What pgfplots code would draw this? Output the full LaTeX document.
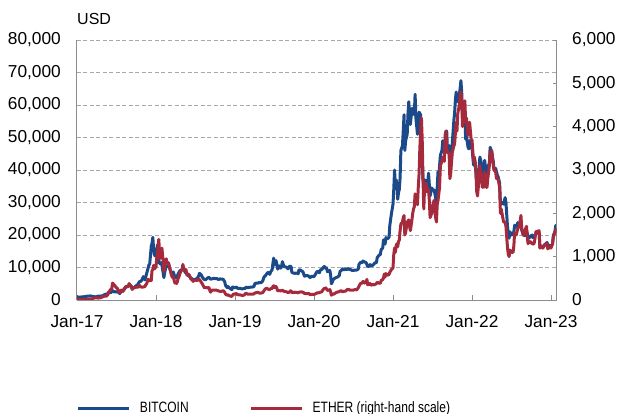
\documentclass[border=0pt]{standalone}
\usepackage{fontspec}
\setmainfont{Liberation Sans}
\newfontfamily\narrowfont[FakeStretch=0.8]{Liberation Sans}
\usepackage{pgfplots}
\pgfplotsset{compat=1.18}

\definecolor{btcblue}{HTML}{1B4A8A}
\definecolor{ethred}{HTML}{A52A3C}
\definecolor{axisgray}{HTML}{8C8C8C}
\definecolor{gridgray}{HTML}{A8A8A8}

\pgfplotsset{
  common/.style={
    scale only axis, width=479.5bp, height=260bp,
    xmin=2017, xmax=2023.07, ymin=0,
    axis line style={draw=axisgray, line width=1bp, -},
    tick style={draw=axisgray, line width=0.8bp},
    tick align=inside, major tick length=5bp,
    scaled y ticks=false,
    /pgf/number format/.cd, 1000 sep={,}, assume math mode=true,
    /pgfplots/.cd,
    ticklabel style={font=\fontsize{17.3bp}{20bp}\selectfont, inner sep=0pt},
  },
}

\begin{document}
\begin{tikzpicture}
\begin{axis}[common, name=btc,
  ymax=80000,
  axis x line*=bottom, axis y line*=left,
  ytick={0,10000,...,80000},
  ytick style={draw=none},
  yticklabel style={xshift=-16bp},
  xtick={2017,2018,...,2023},
  xticklabels={Jan-17,Jan-18,Jan-19,Jan-20,Jan-21,Jan-22,Jan-23},
  xticklabel style={yshift=-15bp, anchor=north},
  ymajorgrids, grid style={draw=gridgray, line width=0.8bp, dash pattern=on 4bp off 2.5bp},
  legend columns=-1,
  legend cell align=left,
  legend image code/.code={\draw[#1] (0bp,0bp) -- (51bp,0bp);},
  legend style={at={(axis description cs:0,0)}, anchor=west, yshift=-108bp,
    draw=none, fill=none, inner sep=0pt, outer sep=0pt,
    nodes={inner sep=0pt},
    cells={anchor=west},
    font=\narrowfont\fontsize{15bp}{18bp}\selectfont,
    /tikz/every odd column/.append style={column sep=9bp},
    /tikz/every even column/.append style={column sep=61bp}},
]
\addplot[btcblue, line width=3bp, line join=round] coordinates {
(2017.00,1000) (2017.02,900) (2017.03,820) (2017.05,920) (2017.07,970) (2017.09,1010) (2017.11,1060) (2017.13,1180) (2017.15,1190) (2017.17,1250) (2017.19,1150) (2017.21,1050) (2017.23,960) (2017.25,1080) (2017.27,1190) (2017.29,1200) (2017.31,1250) (2017.33,1350) (2017.35,1700) (2017.37,1800) (2017.39,2000) (2017.40,2400) (2017.42,2200) (2017.44,2500) (2017.45,2900) (2017.47,2500) (2017.49,2550) (2017.51,2450) (2017.53,2550) (2017.54,1950) (2017.56,2700) (2017.58,2750) (2017.60,3300) (2017.62,4200) (2017.64,4100) (2017.66,4400) (2017.67,4600) (2017.69,4200) (2017.70,3300) (2017.72,3800) (2017.74,4200) (2017.75,4400) (2017.77,4800) (2017.79,5600) (2017.81,5800) (2017.82,6100) (2017.84,7200) (2017.86,6200) (2017.88,8000) (2017.90,9800) (2017.91,10800) (2017.92,11000) (2017.94,16500) (2017.95,17500) (2017.96,19300) (2017.97,15500) (2017.98,14000) (2017.99,13500)
(2018.00,14500) (2018.02,17000) (2018.03,14000) (2018.04,11500) (2018.06,11000) (2018.07,11500) (2018.08,10000) (2018.10,6900) (2018.11,8500) (2018.13,10500) (2018.15,10300) (2018.16,11000) (2018.18,9200) (2018.20,8200) (2018.22,8600) (2018.24,6900) (2018.26,6800) (2018.28,8000) (2018.30,8900) (2018.32,9300) (2018.33,9200) (2018.35,9600) (2018.37,8500) (2018.39,8300) (2018.41,7400) (2018.42,7600) (2018.44,6700) (2018.46,6500) (2018.48,6100) (2018.50,6400) (2018.52,6600) (2018.54,7400) (2018.55,8200) (2018.57,7800) (2018.59,6900) (2018.61,6300) (2018.63,6300) (2018.65,6700) (2018.67,7000) (2018.69,6400) (2018.71,6500) (2018.73,6700) (2018.75,6600) (2018.77,6600) (2018.79,6300) (2018.81,6500) (2018.83,6400) (2018.85,6400) (2018.87,5600) (2018.88,4500) (2018.90,3800) (2018.91,4200) (2018.92,3900) (2018.94,3500) (2018.96,3200) (2018.97,4000) (2018.99,3800)
(2019.00,3800) (2019.02,4000) (2019.03,3600) (2019.05,3600) (2019.07,3550) (2019.09,3400) (2019.11,3500) (2019.13,3600) (2019.14,3950) (2019.16,3800) (2019.18,3900) (2019.20,3950) (2019.22,4000) (2019.24,4100) (2019.25,5000) (2019.27,5200) (2019.29,5200) (2019.31,5400) (2019.33,5300) (2019.35,5800) (2019.37,7200) (2019.38,7300) (2019.40,8000) (2019.42,8500) (2019.44,7900) (2019.45,8600) (2019.47,9300) (2019.48,11200) (2019.49,12900) (2019.50,10800) (2019.52,12100) (2019.53,11000) (2019.54,9500) (2019.56,10500) (2019.58,9800) (2019.59,10500) (2019.60,11800) (2019.62,10300) (2019.64,10200) (2019.65,10100) (2019.67,9600) (2019.69,10400) (2019.71,10300) (2019.72,8500) (2019.74,8300) (2019.76,8200) (2019.78,8300) (2019.80,8100) (2019.81,9300) (2019.83,9200) (2019.85,8800) (2019.86,8700) (2019.88,7300) (2019.90,7500) (2019.92,7500) (2019.94,7200) (2019.95,6900) (2019.97,7300) (2019.99,7200)
(2020.00,7200) (2020.02,8000) (2020.04,8800) (2020.05,8700) (2020.07,8400) (2020.08,9300) (2020.10,9400) (2020.12,10100) (2020.13,10300) (2020.15,9700) (2020.16,9900) (2020.17,8700) (2020.18,8800) (2020.20,9100) (2020.21,7900) (2020.22,5000) (2020.23,5400) (2020.24,6200) (2020.25,6400) (2020.27,6800) (2020.28,6900) (2020.30,7100) (2020.32,7500) (2020.33,8800) (2020.35,9200) (2020.36,9600) (2020.38,9300) (2020.40,9500) (2020.42,9400) (2020.44,9700) (2020.45,9400) (2020.47,9300) (2020.48,9100) (2020.50,9100) (2020.52,9200) (2020.54,9200) (2020.56,9500) (2020.57,11000) (2020.59,11600) (2020.61,11500) (2020.62,12000) (2020.64,11700) (2020.66,11500) (2020.68,10300) (2020.70,10400) (2020.71,10900) (2020.73,10500) (2020.75,10800) (2020.77,11400) (2020.79,11500) (2020.80,13000) (2020.82,13700) (2020.84,14000) (2020.85,15500) (2020.87,16000) (2020.88,18500) (2020.90,17200) (2020.91,19200) (2020.93,18800) (2020.95,19300) (2020.96,23000) (2020.98,26500)
(2021.00,29400) (2021.01,34000) (2021.02,40000) (2021.03,35000) (2021.04,37000) (2021.05,35500) (2021.06,31000) (2021.07,33000) (2021.08,34000) (2021.09,37500) (2021.10,46000) (2021.12,47500) (2021.13,52000) (2021.14,57000) (2021.15,46000) (2021.16,49000) (2021.18,51000) (2021.19,57300) (2021.20,61000) (2021.21,56500) (2021.22,54000) (2021.24,58800) (2021.25,59000) (2021.27,57000) (2021.28,63300) (2021.29,56000) (2021.31,51000) (2021.32,55000) (2021.33,57800) (2021.35,57000) (2021.36,50000) (2021.37,43000) (2021.38,37000) (2021.39,35000) (2021.40,37000) (2021.42,36000) (2021.43,33500) (2021.45,39000) (2021.46,35500) (2021.47,32000) (2021.49,34500) (2021.50,34000) (2021.52,33800) (2021.53,32800) (2021.54,31500) (2021.55,29800) (2021.57,39500) (2021.58,38000) (2021.60,44500) (2021.62,46000) (2021.63,49000) (2021.65,47000) (2021.67,50000) (2021.68,52000) (2021.69,46000) (2021.71,47500) (2021.72,42500) (2021.74,43500) (2021.75,48000) (2021.77,55000) (2021.78,57500) (2021.79,61500) (2021.80,64000) (2021.81,61000) (2021.82,61500) (2021.83,61500) (2021.85,65000) (2021.86,67500) (2021.87,64000) (2021.88,57000) (2021.90,57000) (2021.91,57500) (2021.92,49500) (2021.93,50500) (2021.95,47000) (2021.96,46500) (2021.97,49000) (2021.99,47500)
(2022.00,47000) (2022.02,41500) (2022.03,43000) (2022.04,42000) (2022.06,36000) (2022.07,37000) (2022.08,37500) (2022.10,44000) (2022.12,42000) (2022.13,38000) (2022.14,39000) (2022.15,38000) (2022.16,43000) (2022.18,39000) (2022.19,39500) (2022.20,41000) (2022.22,42000) (2022.23,47000) (2022.25,45500) (2022.27,42500) (2022.28,40000) (2022.30,40500) (2022.32,38500) (2022.33,38000) (2022.35,36000) (2022.36,30000) (2022.37,29500) (2022.38,30000) (2022.40,29500) (2022.42,31500) (2022.43,30000) (2022.45,22500) (2022.46,20500) (2022.47,19000) (2022.48,21000) (2022.50,20000) (2022.52,20500) (2022.53,21000) (2022.54,23000) (2022.56,22500) (2022.58,23800) (2022.60,23200) (2022.62,24300) (2022.63,21500) (2022.65,20000) (2022.67,19800) (2022.68,20000) (2022.69,21500) (2022.71,19500) (2022.72,19000) (2022.74,19500) (2022.76,20000) (2022.77,19200) (2022.79,19500) (2022.81,20500) (2022.82,20700) (2022.83,20500) (2022.85,20800) (2022.86,16000) (2022.87,16600) (2022.89,16500) (2022.90,16500) (2022.92,17000) (2022.93,17200) (2022.95,17700) (2022.96,16800) (2022.98,16800)
(2023.00,16600) (2023.02,17200) (2023.03,19900) (2023.05,21000) (2023.06,22800) (2023.07,23100)
};
\addlegendentry{BITCOIN}
\addlegendimage{ethred, line width=3bp}
\addlegendentry{ETHER (right-hand scale)}
\end{axis}

\begin{axis}[common,
  ymax=6000,
  axis x line=none, axis y line*=right,
  ytick={0,1000,...,6000},
  major tick length=4bp,
  yticklabel style={xshift=15.5bp},
]
\addplot[ethred, line width=3bp, line join=round] coordinates {
(2017.00,8) (2017.04,10.5) (2017.08,11) (2017.12,13) (2017.15,16) (2017.17,19) (2017.19,20) (2017.20,28) (2017.21,43) (2017.23,50) (2017.25,50) (2017.27,45) (2017.29,48) (2017.31,60) (2017.33,80) (2017.35,90) (2017.37,88) (2017.39,125) (2017.40,170) (2017.42,230) (2017.44,260) (2017.45,390) (2017.47,350) (2017.48,330) (2017.49,300) (2017.51,270) (2017.53,200) (2017.54,165) (2017.56,230) (2017.58,200) (2017.60,270) (2017.62,300) (2017.64,310) (2017.65,330) (2017.66,380) (2017.67,350) (2017.69,290) (2017.70,250) (2017.72,290) (2017.74,290) (2017.76,300) (2017.78,300) (2017.79,340) (2017.81,300) (2017.82,300) (2017.84,300) (2017.86,310) (2017.87,350) (2017.88,370) (2017.90,480) (2017.91,440) (2017.92,460) (2017.94,450) (2017.95,680) (2017.96,700) (2017.97,800) (2017.98,720) (2017.99,740)
(2018.00,760) (2018.01,980) (2018.02,1100) (2018.03,1300) (2018.035,1400) (2018.04,1250) (2018.045,950) (2018.05,1050) (2018.06,1050) (2018.07,1100) (2018.075,1200) (2018.08,1100) (2018.09,900) (2018.10,650) (2018.11,850) (2018.12,900) (2018.13,950) (2018.14,850) (2018.15,860) (2018.16,860) (2018.17,750) (2018.18,700) (2018.19,610) (2018.20,550) (2018.21,520) (2018.22,540) (2018.23,450) (2018.24,390) (2018.25,400) (2018.26,380) (2018.27,420) (2018.28,500) (2018.29,530) (2018.30,600) (2018.31,640) (2018.32,680) (2018.33,700) (2018.34,820) (2018.35,750) (2018.36,690) (2018.38,700) (2018.39,580) (2018.40,600) (2018.42,580) (2018.43,530) (2018.44,490) (2018.46,460) (2018.47,430) (2018.48,450) (2018.50,460) (2018.52,450) (2018.54,480) (2018.55,470) (2018.57,420) (2018.59,360) (2018.61,290) (2018.62,280) (2018.63,290) (2018.65,280) (2018.67,290) (2018.68,230) (2018.69,180) (2018.71,230) (2018.73,230) (2018.75,230) (2018.77,225) (2018.79,210) (2018.81,200) (2018.83,200) (2018.85,215) (2018.86,200) (2018.87,175) (2018.88,135) (2018.90,110) (2018.91,120) (2018.92,110) (2018.94,90) (2018.96,85) (2018.97,110) (2018.98,135)
(2019.00,140) (2019.02,150) (2019.03,125) (2019.05,120) (2019.07,115) (2019.09,107) (2019.11,110) (2019.12,120) (2019.13,145) (2019.14,155) (2019.16,135) (2019.18,135) (2019.20,135) (2019.22,135) (2019.24,140) (2019.25,160) (2019.27,170) (2019.29,175) (2019.31,160) (2019.33,160) (2019.35,170) (2019.37,220) (2019.38,250) (2019.40,270) (2019.42,250) (2019.44,240) (2019.45,260) (2019.47,270) (2019.48,310) (2019.49,330) (2019.50,290) (2019.52,310) (2019.53,270) (2019.54,210) (2019.56,220) (2019.58,210) (2019.60,225) (2019.62,200) (2019.64,195) (2019.65,190) (2019.67,175) (2019.69,180) (2019.70,210) (2019.71,210) (2019.72,170) (2019.74,175) (2019.76,180) (2019.78,175) (2019.80,165) (2019.81,180) (2019.83,185) (2019.85,185) (2019.87,170) (2019.88,150) (2019.90,150) (2019.92,148) (2019.94,145) (2019.95,122) (2019.97,130) (2019.99,130)
(2020.00,130) (2020.02,143) (2020.04,165) (2020.06,165) (2020.08,180) (2020.10,190) (2020.11,225) (2020.12,250) (2020.13,270) (2020.14,260) (2020.15,280) (2020.16,250) (2020.17,220) (2020.19,230) (2020.20,240) (2020.21,200) (2020.22,110) (2020.23,125) (2020.24,135) (2020.25,135) (2020.27,160) (2020.28,170) (2020.30,185) (2020.32,190) (2020.33,210) (2020.35,210) (2020.36,190) (2020.38,200) (2020.40,205) (2020.42,240) (2020.44,245) (2020.45,230) (2020.47,230) (2020.48,225) (2020.50,230) (2020.52,240) (2020.54,235) (2020.56,280) (2020.57,320) (2020.59,385) (2020.61,390) (2020.62,430) (2020.64,390) (2020.66,430) (2020.67,475) (2020.68,350) (2020.70,370) (2020.71,380) (2020.72,340) (2020.74,355) (2020.76,350) (2020.78,365) (2020.79,380) (2020.80,410) (2020.82,390) (2020.84,385) (2020.85,450) (2020.87,470) (2020.88,510) (2020.89,600) (2020.90,530) (2020.91,610) (2020.93,570) (2020.95,590) (2020.96,640) (2020.98,700)
(2021.00,740) (2021.01,1050) (2021.02,1200) (2021.03,1100) (2021.04,1250) (2021.05,1300) (2021.06,1230) (2021.07,1350) (2021.08,1380) (2021.09,1600) (2021.10,1750) (2021.12,1800) (2021.13,1900) (2021.14,1950) (2021.15,1500) (2021.16,1560) (2021.18,1800) (2021.19,1820) (2021.20,1850) (2021.21,1700) (2021.22,1600) (2021.24,1850) (2021.25,2000) (2021.26,2100) (2021.27,2150) (2021.28,2450) (2021.29,2300) (2021.31,2200) (2021.32,2600) (2021.33,2900) (2021.34,3500) (2021.35,3900) (2021.36,4200) (2021.37,3700) (2021.38,2800) (2021.39,2100) (2021.40,2600) (2021.42,2700) (2021.43,2500) (2021.45,2550) (2021.46,2300) (2021.47,1900) (2021.49,2000) (2021.50,2150) (2021.52,2300) (2021.53,2050) (2021.54,1900) (2021.55,1800) (2021.56,2200) (2021.57,2300) (2021.59,2600) (2021.60,3100) (2021.62,3200) (2021.63,3300) (2021.65,3200) (2021.66,3800) (2021.67,3900) (2021.68,3500) (2021.69,3400) (2021.71,3400) (2021.72,2800) (2021.73,2900) (2021.75,3400) (2021.77,3550) (2021.78,3600) (2021.79,3850) (2021.80,4100) (2021.81,3900) (2021.82,4300) (2021.84,4500) (2021.85,4700) (2021.86,4800) (2021.87,4600) (2021.88,4000) (2021.90,4300) (2021.91,4600) (2021.92,4100) (2021.93,4200) (2021.95,3800) (2021.96,3900) (2021.97,4100) (2021.99,3700)
(2022.00,3700) (2022.02,3200) (2022.03,3300) (2022.04,3200) (2022.05,3000) (2022.06,2500) (2022.07,2400) (2022.08,2600) (2022.10,3100) (2022.11,2900) (2022.12,2900) (2022.13,2600) (2022.14,2700) (2022.15,2600) (2022.16,2950) (2022.18,2600) (2022.19,2600) (2022.20,2800) (2022.22,3100) (2022.23,3400) (2022.25,3450) (2022.27,3100) (2022.28,3000) (2022.30,2950) (2022.31,2800) (2022.33,2800) (2022.35,2600) (2022.36,2000) (2022.37,2100) (2022.38,2000) (2022.40,1800) (2022.42,1800) (2022.43,1700) (2022.45,1200) (2022.46,1050) (2022.47,1000) (2022.48,1150) (2022.50,1100) (2022.52,1100) (2022.53,1250) (2022.54,1550) (2022.56,1500) (2022.58,1650) (2022.60,1700) (2022.62,1950) (2022.63,1650) (2022.65,1500) (2022.67,1550) (2022.68,1650) (2022.69,1700) (2022.70,1450) (2022.71,1300) (2022.72,1330) (2022.74,1350) (2022.76,1300) (2022.78,1290) (2022.79,1330) (2022.81,1580) (2022.83,1580) (2022.85,1600) (2022.86,1200) (2022.87,1250) (2022.89,1200) (2022.90,1200) (2022.92,1280) (2022.93,1280) (2022.95,1300) (2022.96,1180) (2022.98,1220)
(2023.00,1200) (2023.02,1300) (2023.03,1450) (2023.05,1560) (2023.06,1630) (2023.07,1620)
};
\end{axis}
\node[anchor=base west, inner sep=0pt, yshift=15bp, font=\fontsize{16bp}{19bp}\selectfont]
  at (btc.north west) {USD};
\pgfresetboundingbox
\useasboundingbox (-77bp,-114bp) rectangle (542bp,300bp);
\end{tikzpicture}
\end{document}
